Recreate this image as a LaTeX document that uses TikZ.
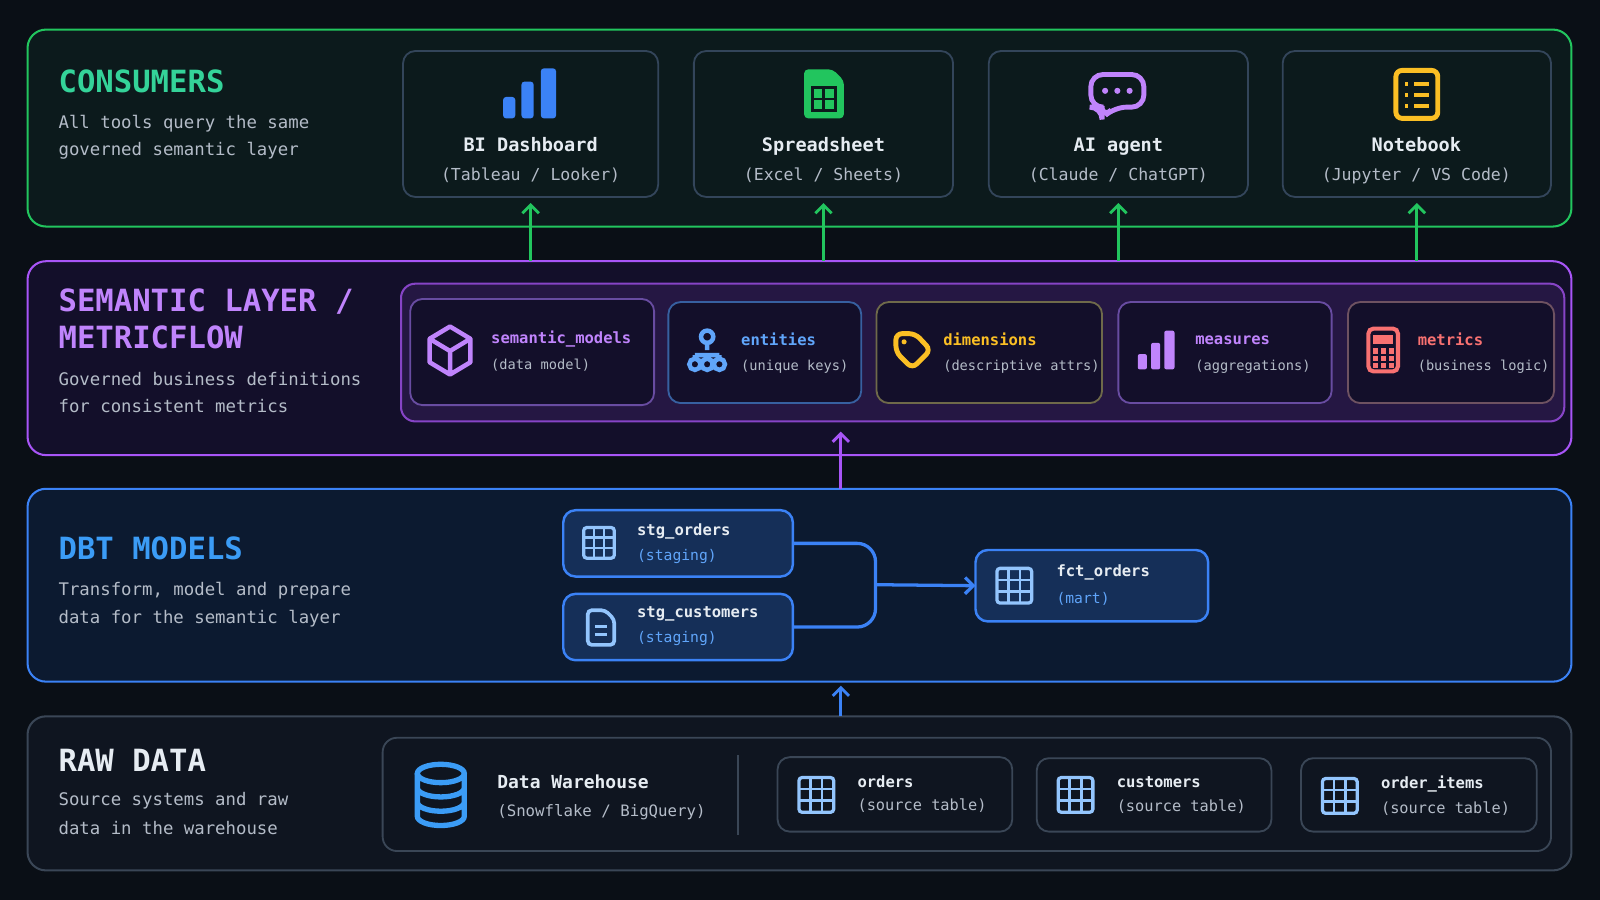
\documentclass[tikz,border=0pt]{standalone}
\usepackage{fontspec}
\setmainfont{DejaVu Sans Mono}
\usetikzlibrary{arrows.meta,positioning}

\definecolor{bg}{HTML}{0A0F16}
\definecolor{gline}{HTML}{22C55E}
\definecolor{gtext}{HTML}{34D399}
\definecolor{gfill}{HTML}{0C1A1C}
\definecolor{pline}{HTML}{A855F7}
\definecolor{ptext}{HTML}{C084FC}
\definecolor{pfill}{HTML}{130F2A}
\definecolor{bline}{HTML}{3B82F6}
\definecolor{btext}{HTML}{3B9CF6}
\definecolor{bfill}{HTML}{0C1A30}
\definecolor{lblue}{HTML}{60A5FA}
\definecolor{tblue}{HTML}{93C5FD}
\definecolor{amber}{HTML}{FBBF24}
\definecolor{redc}{HTML}{F87171}
\definecolor{grey}{HTML}{3A4656}
\definecolor{rfill}{HTML}{0F1520}
\definecolor{desc}{HTML}{B4BCC8}
\definecolor{wtxt}{HTML}{E6ECF2}
\definecolor{cardl}{HTML}{33455A}

% a box from (x1,y1) to (x2,y2) in pixels
\newcommand\panel[6]{\node[#6,minimum width={(#4-#2)*0.5pt},minimum height={(#5-#3)*0.5pt}] (#1) at ({(#2+#4)/2},{(#3+#5)/2}) {};}
% table grid icon
\newcommand\gridicon[4]{%
  \draw[#4,line width=1.6pt,rounded corners=1.5pt] (#1-#3,#2-#3) rectangle (#1+#3,#2+#3);
  \draw[#4,line width=1.3pt] (#1-#3,#2-#3/3) -- (#1+#3,#2-#3/3) (#1-#3,#2+#3/3) -- (#1+#3,#2+#3/3)
    (#1-#3/3,#2-#3) -- (#1-#3/3,#2+#3) (#1+#3/3,#2-#3) -- (#1+#3/3,#2+#3);}

\begin{document}
\begin{tikzpicture}[x=0.5pt,y=-0.5pt,
    layer/.style = {draw, line width=1pt, rounded corners=9pt, inner sep=0pt, outer sep=0pt},
    card/.style = {draw=cardl, line width=0.9pt, rounded corners=6pt, inner sep=0pt, outer sep=0pt},
    ltitle/.style = {anchor=west, inner sep=0pt, font=\fontsize{15}{17}\selectfont\bfseries},
    ldesc/.style = {anchor=west, inner sep=0pt, text=desc, font=\fontsize{8.5}{10}\selectfont},
    cname/.style = {text=wtxt, text height=1.6ex, text depth=0.4ex, font=\fontsize{9.1}{11}\selectfont\bfseries},
    csub/.style = {text=desc, text height=1.6ex, text depth=0.4ex, font=\fontsize{8.1}{10}\selectfont},
    sname/.style = {anchor=west, inner sep=0pt, font=\fontsize{7.6}{9}\selectfont\bfseries},
    ssub/.style = {anchor=west, inner sep=0pt, text=desc, font=\fontsize{6.7}{8}\selectfont},
    up/.style = {-{Straight Barb[length=4pt,width=8pt]}, line width=1.4pt}
    ]
    \fill[bg] (0,0) rectangle (1568,882);

    % consumers
    \panel{cons}{27}{29}{1540}{222}{layer, draw=gline, fill=gfill}
    \node[ltitle, text=gtext] (constitle) at (57,80) {CONSUMERS};
    \node[ldesc] (consdesc1) at (57,121) {All tools query the same};
    \node[ldesc] (consdesc2) at (57,148) {governed semantic layer};
    \panel{bi}{395}{50}{645}{193}{card}
    \panel{sheet}{680}{50}{934}{193}{card}
    \panel{agent}{969}{50}{1223}{193}{card}
    \panel{nb}{1257}{50}{1520}{193}{card}
    \node[cname] at (520,142) {BI Dashboard};
    \node[csub] at (520,170) {(Tableau / Looker)};
    \node[cname] at (807,142) {Spreadsheet};
    \node[csub] at (807,170) {(Excel / Sheets)};
    \node[cname] at (1096,142) {AI agent};
    \node[csub] at (1096,170) {(Claude / ChatGPT)};
    \node[cname] at (1388,142) {Notebook};
    \node[csub] at (1388,170) {(Jupyter / VS Code)};
    % icons
    \fill[bline, rounded corners=1.5pt] (493,95) rectangle (505,116) (511,80) rectangle (523,116) (530,67) rectangle (545,116);
    \fill[gline, rounded corners=2pt] (788,68) -- (816,68) -- (827,79) -- (827,116) -- (788,116) -- cycle;
    \draw[gfill, line width=1.4pt] (796,86) rectangle (819,108) (796,97) -- (819,97) (807,86) -- (807,108);
    \draw[ptext, line width=2.4pt, rounded corners=6pt] (1069,73) -- (1121,73) -- (1121,105) -- (1092,105) -- (1080,116) -- (1080,105) -- (1069,105) -- cycle;
    \fill[ptext] (1083,89) circle (3) (1095,89) circle (3) (1107,89) circle (3);
    \draw[amber, line width=2.4pt, rounded corners=3pt] (1368,69) rectangle (1409,116);
    \draw[amber, line width=2pt] (1377,82) -- (1380,82) (1386,82) -- (1400,82) (1377,93) -- (1380,93) (1386,93) -- (1400,93) (1377,104) -- (1380,104) (1386,104) -- (1400,104);

    % semantic layer
    \panel{sem}{27}{256}{1540}{446}{layer, draw=pline, fill=pfill}
    \node[ltitle, text=ptext] (semtitle1) at (57,296) {SEMANTIC LAYER /};
    \node[ltitle, text=ptext] (semtitle2) at (57,331) {METRICFLOW};
    \node[ldesc] (semdesc1) at (57,371) {Governed business definitions};
    \node[ldesc] (semdesc2) at (57,398) {for consistent metrics};
    \panel{mf}{393}{278}{1533}{413}{layer, draw=pline!80!black, fill=pline!12!pfill, rounded corners=7pt}
    \panel{smod}{402}{293}{641}{397}{card, draw=pline!45!cardl, fill=pfill}
    \panel{ent}{655}{296}{844}{395}{card, draw=bline!45!cardl, fill=pfill}
    \panel{dim}{859}{296}{1080}{395}{card, draw=amber!30!cardl, fill=pfill}
    \panel{meas}{1096}{296}{1305}{395}{card, draw=pline!45!cardl, fill=pfill}
    \panel{met}{1321}{296}{1523}{395}{card, draw=redc!30!cardl, fill=pfill}
    \node[sname, text=ptext] at (481,332) {semantic\_models};
    \node[ssub] at (481,358) {(data model)};
    \node[sname, text=lblue] at (726,333) {entities};
    \node[ssub] at (726,359) {(unique keys)};
    \node[sname, text=amber] at (924,333) {dimensions};
    \node[ssub] at (924,359) {(descriptive attrs)};
    \node[sname, text=ptext] at (1171,333) {measures};
    \node[ssub] at (1171,359) {(aggregations)};
    \node[sname, text=redc] at (1389,333) {metrics};
    \node[ssub] at (1389,359) {(business logic)};
    % icons
    \draw[ptext, line width=2.2pt, line join=round] (441,320) -- (461,332) -- (461,355) -- (441,367) -- (421,355) -- (421,332) -- cycle
      (421,332) -- (441,344) -- (461,332) (441,344) -- (441,367);
    \draw[lblue, line width=2.2pt] (693,330) circle (6) (693,336) -- (693,343) (681,348) -- (705,348) (681,348) -- (681,352) (705,348) -- (705,352)
      (681,357) circle (5.5) (705,357) circle (5.5) (693,348) -- (693,352) (693,357) circle (5.5);
    \draw[amber, line width=2.4pt, rounded corners=3pt] (878,327) -- (897,327) -- (912,343) -- (894,361) -- (878,345) -- cycle;
    \fill[amber] (886,335) circle (2.5);
    \fill[ptext, rounded corners=1pt] (1115,347) rectangle (1124,362) (1128,336) rectangle (1137,362) (1141,324) rectangle (1151,362);
    \draw[redc, line width=2pt, rounded corners=2.5pt] (1341,322) rectangle (1370,364);
    \fill[redc] (1346,328) rectangle (1365,337);
    \foreach \cx in {1348,1356,1364} \foreach \cy in {344,351,358} \fill[redc] (\cx-2.5,\cy-2.5) rectangle (\cx+2.5,\cy+2.5);

    % dbt models
    \panel{dbt}{27}{479}{1540}{668}{layer, draw=bline, fill=bfill}
    \node[ltitle, text=btext] (dbttitle) at (57,537) {DBT MODELS};
    \node[ldesc] (dbtdesc1) at (57,579) {Transform, model and prepare};
    \node[ldesc] (dbtdesc2) at (57,606) {data for the semantic layer};
    \panel{so}{552}{500}{777}{565}{card, draw=bline, fill=bfill!80!bline, line width=1.2pt}
    \panel{sc}{552}{582}{777}{647}{card, draw=bline, fill=bfill!80!bline, line width=1.2pt}
    \panel{fct}{956}{539}{1184}{609}{card, draw=bline, fill=bfill!80!bline, line width=1.2pt}
    \node[sname, text=wtxt] at (624,521) {stg\_orders};
    \node[ssub, text=lblue, font=\fontsize{7.2}{9}\selectfont] at (624,545) {(staging)};
    \node[sname, text=wtxt] at (624,602) {stg\_customers};
    \node[ssub, text=lblue, font=\fontsize{7.2}{9}\selectfont] at (624,626) {(staging)};
    \node[sname, text=wtxt] at (1035,561) {fct\_orders};
    \node[ssub, text=lblue, font=\fontsize{7.2}{9}\selectfont] at (1035,587) {(mart)};
    \gridicon{587}{532}{15}{tblue}
    \gridicon{994}{574}{17}{tblue}
    \draw[tblue, line width=1.8pt, rounded corners=2pt] (576,598) -- (593,598) -- (602,607) -- (602,632) -- (576,632) -- cycle;
    \draw[tblue, line width=1.6pt] (583,614) -- (595,614) (583,622) -- (595,622);
    \coordinate (fork) at (858,573);
    \draw[bline, line width=1.6pt, rounded corners=9pt] (so.east) -| (fork) |- (sc.east);
    \draw[bline, -{Straight Barb[length=4pt,width=8pt]}, line width=1.6pt] (fork) -- (fct.west);

    % raw data
    \panel{raw}{27}{702}{1540}{853}{layer, draw=grey, fill=rfill}
    \node[ltitle, text=wtxt] (rawtitle) at (57,745) {RAW DATA};
    \node[ldesc] (rawdesc1) at (57,785) {Source systems and raw};
    \node[ldesc] (rawdesc2) at (57,811) {data in the warehouse};
    \panel{wh}{375}{723}{1520}{834}{card, draw=grey, rounded corners=7pt}
    \draw[grey, line width=0.8pt] (723,740) -- (723,818);
    \panel{ord}{762}{742}{992}{815}{card, draw=grey}
    \panel{cust}{1016}{743}{1246}{815}{card, draw=grey}
    \panel{items}{1275}{743}{1506}{815}{card, draw=grey}
    \node[sname, text=wtxt, font=\fontsize{8.8}{11}\selectfont\bfseries] at (487,766) {Data Warehouse};
    \node[ssub, font=\fontsize{7.7}{10}\selectfont] at (487,796) {(Snowflake / BigQuery)};
    \node[sname, text=wtxt] at (840,766) {orders};
    \node[ssub, font=\fontsize{7.5}{9}\selectfont] at (840,790) {(source table)};
    \node[sname, text=wtxt] at (1094,767) {customers};
    \node[ssub, font=\fontsize{7.5}{9}\selectfont] at (1094,791) {(source table)};
    \node[sname, text=wtxt] at (1353,768) {order\_items};
    \node[ssub, font=\fontsize{7.5}{9}\selectfont] at (1353,792) {(source table)};
    \gridicon{800}{779}{17}{tblue}
    \gridicon{1054}{779}{17}{tblue}
    \gridicon{1313}{780}{17}{tblue}
    \draw[btext, line width=2.6pt] (432,758) ellipse (23 and 9);
    \draw[btext, line width=2.6pt] (409,758) -- (409,800) arc (180:0:23 and 9) -- (455,758)
      (409,772) arc (180:0:23 and 9) (409,786) arc (180:0:23 and 9);

    % flow between layers
    \foreach \c in {bi, sheet, agent, nb}
      \draw[up, gline] (sem.north -| \c.south) -- ([yshift=-3pt]\c.south);
    \coordinate (mid) at (824,0);
    \draw[up, pline] (dbt.north -| mid) -- ([yshift=-5pt]mf.south -| mid);
    \draw[up, bline] (raw.north -| mid) -- ([yshift=-2pt]dbt.south -| mid);
\end{tikzpicture}
\end{document}
